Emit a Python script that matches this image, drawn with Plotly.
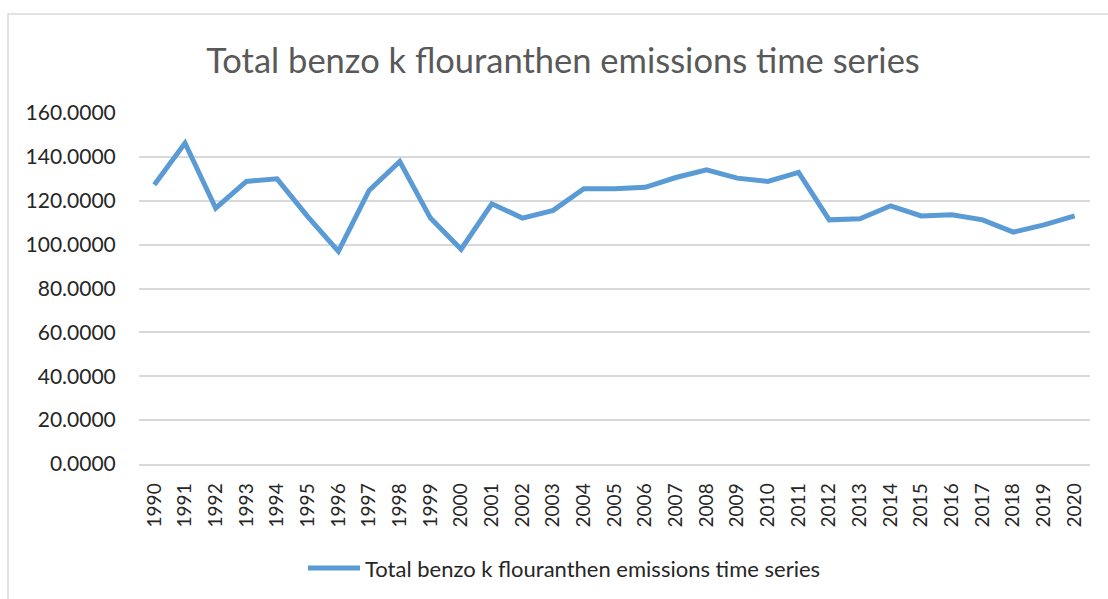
import plotly.graph_objects as go

# Annual totals, 1990-2020
years = [str(y) for y in range(1990, 2021)]
emissions = [
    127.3, 146.3, 116.6, 128.8, 130.0, 112.8, 96.9, 124.7, 137.9, 112.1,
    97.9, 118.6, 112.1, 115.6, 125.5, 125.5, 126.1, 130.6, 134.1, 130.3,
    128.8, 132.9, 111.3, 111.8, 117.7, 113.1, 113.6, 111.3, 105.7, 109.0,
    113.1,
]
series_name = "Total benzo k flouranthen emissions time series"
y_ticks = [0, 20, 40, 60, 80, 100, 120, 140, 160]

W, H = 1108, 599
L, R, T, B = 139, 18, 113, 135
plot_w = W - L - R
plot_h = H - T - B


def px_x(px):
    return (px - L) / plot_w


def px_y(py):
    return (H - B - py) / plot_h


FONT = "Lato, 'Open Sans', sans-serif"
GRID = "#D9D9D9"
BLUE = "#5B9BD5"

fig = go.Figure()
fig.add_trace(go.Scatter(
    x=years,
    y=emissions,
    mode="lines",
    name=series_name,
    showlegend=False,
    line=dict(color=BLUE, width=5, shape="linear"),
))

fig.update_layout(
    width=W,
    height=H,
    margin=dict(l=L, r=R, t=T, b=B),
    paper_bgcolor="white",
    plot_bgcolor="white",
    font=dict(family=FONT, color="#404040"),
    title=dict(
        text=series_name,
        x=563 / W,
        xanchor="center",
        xref="container",
        y=1 - 61 / H,
        yanchor="middle",
        yref="container",
        font=dict(family=FONT, size=34.5, color="#595959"),
    ),
    xaxis=dict(
        type="category",
        range=[-0.5, len(years) - 0.5],
        tickangle=-90,
        tickfont=dict(family=FONT, size=19, color="#262626"),
        showgrid=False,
        showline=True,
        linecolor=GRID,
        linewidth=1.5,
        ticks="outside",
        ticklen=10,
        tickcolor="rgba(0,0,0,0)",
        fixedrange=True,
    ),
    yaxis=dict(
        range=[0, 160],
        tickvals=y_ticks,
        tickformat=".4f",
        tickfont=dict(family=FONT, size=21, color="#262626"),
        showgrid=True,
        gridcolor=GRID,
        gridwidth=1.5,
        zeroline=False,
        showline=False,
        ticks="outside",
        ticklen=18,
        tickcolor="rgba(0,0,0,0)",
        fixedrange=True,
    ),
    shapes=[
        # chart frame
        dict(type="rect", xref="paper", yref="paper",
             x0=px_x(8), x1=px_x(1112), y0=px_y(640), y1=px_y(14),
             line=dict(color=GRID, width=1.5), fillcolor="rgba(0,0,0,0)",
             layer="below"),
        # legend key
        dict(type="line", xref="paper", yref="paper",
             x0=px_x(308), x1=px_x(360), y0=px_y(568), y1=px_y(568),
             line=dict(color=BLUE, width=5)),
    ],
    annotations=[
        dict(text=series_name, xref="paper", yref="paper",
             x=px_x(363), y=px_y(568), xanchor="left", yanchor="middle",
             showarrow=False,
             font=dict(family=FONT, size=22, color="#262626")),
    ],
)

fig.write_html("out.html")
